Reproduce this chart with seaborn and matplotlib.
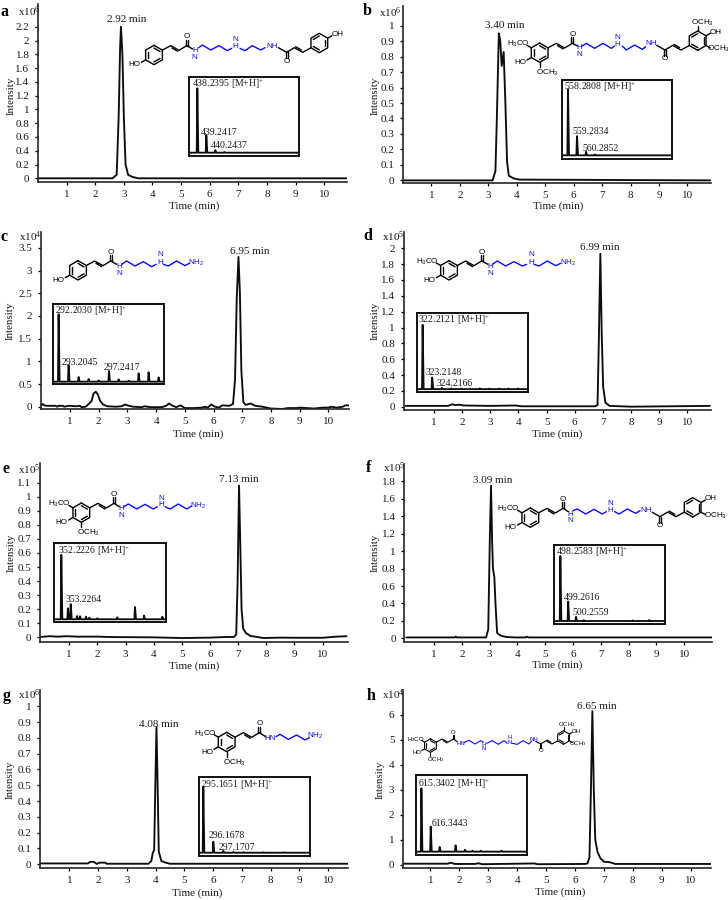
import numpy as np
import pandas as pd
import matplotlib
matplotlib.use("Agg")
import matplotlib.pyplot as plt
import seaborn as sns

sns.set_theme(style="ticks")
plt.rcParams["font.family"] = ["Liberation Serif", "DejaVu Serif"]
plt.rcParams["mathtext.default"] = "regular"

W, H = 728, 900
BLUE = "#0a0af5"

# ---------- chromatograms (time in min, intensity in axis units) ----------
time_a = [0, 2.6, 2.75, 2.82, 2.87, 2.9, 2.95, 3.0, 3.06, 3.15, 3.3, 3.5, 10.8]
inte_a = [0, 0, 0.05, 0.9, 1.9, 2.2, 1.8, 0.9, 0.2, 0.05, 0.02, 0, 0]
time_b = [0, 3.15, 3.25, 3.3, 3.37, 3.42, 3.47, 3.54, 3.6, 3.66, 3.72, 3.9, 4.1, 10.8]
inte_b = [0, 0, 0.06, 0.4, 0.95, 0.9, 0.74, 0.83, 0.5, 0.12, 0.03, 0.012, 0.005, 0]
time_c = [0, .05, .1, .2, .3, .5, .55, .6, .75, .8, .95, 1.2, 1.35, 1.4, 1.55, 1.65, 1.75, 1.82, 1.9, 1.97, 2.05,
          2.15, 2.3, 2.6, 2.8, 2.92, 3.05, 3.2, 3.5, 3.6, 3.8, 4.2, 4.35, 4.45, 4.55, 4.7, 4.85, 5, 5.3, 5.6, 5.7,
          5.8, 5.92, 6.05, 6.2, 6.3, 6.55, 6.68, 6.75, 6.81, 6.87, 6.92, 6.97, 7.04, 7.12, 7.3, 7.45, 7.7, 8, 8.4, 8.6,
          8.9, 9, 9.5, 9.8, 10, 10.1, 10.3, 10.5, 10.6, 10.72]
inte_c = [.03, .06, .03, .02, .02, .02, 0, .02, .02, 0, .02, .01, .02, -.01, 0, .06, .12, .29, .33, .27, .13,
          .05, .01, 0, .01, .05, .02, 0, -.01, .01, -.01, -.01, .02, .07, .03, -.01, .03, -.03, -.03, -.02, 0,
          -.02, .05, 0, -.02, .03, .02, .06, .6, 2.4, 3.3, 2.5, .8, .1, .04, .07, .02, 0, -.04, -.05, -.03,
          -.03, -.02, -.04, -.02, -.02, 0, -.02, 0, .03, .03]
time_d = [0, 1.5, 1.65, 1.75, 1.9, 2.05, 3, 3.9, 4.1, 6.72, 6.81, 6.86, 6.91, 6.96, 7.01, 7.09, 7.24, 8, 10.8]
inte_d = [.01, .01, .03, .02, .025, .015, .01, .015, .005, .005, .02, .9, 1.93, .9, .25, .05, .01, 0, .01]
time_e = [0, .3, .6, .9, 1.3, 2, 2.5, 4, 5, 6, 6.5, 6.85, 6.93, 6.98, 7.03, 7.07, 7.12, 7.18, 7.28, 7.43, 7.6, 7.9,
          8.5, 9, 10, 10.5, 10.85]
inte_e = [.003, .008, .005, .008, .005, .005, .002, 0, -.005, -.002, .002, .003, .02, .4, 1.08, .7, .2, .06,
          .03, .01, .005, -.005, -.002, -.003, -.003, .005, .008]
time_f = [0, 1.75, 1.78, 1.82, 2.87, 2.95, 3.01, 3.05, 3.09, 3.12, 3.17, 3.21, 3.27, 3.4, 3.6, 3.9, 4.3, 4.33, 4.4, 11]
inte_f = [.01, .01, .02, .01, .01, .1, 1.2, 1.75, 1.1, .8, .7, .4, .06, .03, .015, .01, .01, .02, .01, .01]
time_g = [0, 1.65, 1.72, 1.85, 1.95, 2.05, 2.25, 2.3, 3.75, 3.85, 3.9, 3.95, 3.99, 4.03, 4.07, 4.11, 4.2, 4.35, 4.5, 10.7]
inte_g = [.005, .005, .015, .015, .002, .01, .01, .003, .003, .02, .07, .09, .5, .87, .5, .08, .02, .01, .003, .003]
time_h = [.06, 1.6, 1.7, 1.85, 2.55, 2.65, 2.8, 4.6, 4.7, 6.33, 6.43, 6.5, 6.55, 6.6, 6.65, 6.7, 6.78, 6.88, 7, 7.2, 7.4, 8.05, 10.69]
inte_h = [.04, .04, .08, .03, .03, .06, .02, .05, .02, .03, .05, .3, 3.0, 6.15, 3.0, 1.0, .5, .25, .12, .1, .03, .03, .03]

# ---------- MS insets: m/z and relative height ----------
mz_a = [438.24, 439.24, 440.24, 441.24]
rel_a = [1, .27, .04, .01]
mz_b = [558.28, 559.28, 560.29, 561.29]
rel_b = [1, .29, .055, .012]
mz_c = [292.20, 293.20, 294.2, 295.2, 296.2, 297.24, 298.2, 299.2, 300.2, 301.2, 302.2]
rel_c = [1, .248, .07, .04, .02, .158, .035, .015, .124, .139, .064]
mz_d = [322.21, 323.21, 324.22, 325.2, 326.2, 327.2, 328.2, 329.2, 330.2, 331.2, 332.2]
rel_d = [1, .18, .02, .01, .008, .008, .012, .008, .008, .008, .01]
mz_e = [352.22, 352.93, 353.23, 353.9, 354.22, 354.86, 355.22, 356.08, 358.22, 360.11, 361.08, 363.04]
rel_e = [1, .17, .233, .05, .047, .04, .025, .015, .03, .19, .057, .04]
mz_f = [498.26, 499.26, 500.26, 501.26, 507.5, 509.6]
rel_f = [1, .30, .065, .012, .008, .015]
mz_g = [295.17, 296.17, 297.17, 298.17, 299.2, 301.2, 303.2]
rel_g = [1, .167, .03, .01, .006, .006, .006]
mz_h = [615.34, 616.34, 617.3, 619.0, 620.0, 620.8, 621.7, 623.9]
rel_h = [1, .395, .074, .1, .03, .015, .015, .015]

x_ticks = list(range(1, 11))

# ---------- panel layout ----------
panels = [
 dict(k="a", t=time_a, y=inte_a, box=(38, 347, 4, 182.3), xl=(0, 10.80), yl=(-.058, 2.53),
      yt=np.arange(0, 2.21, .2), exp="6", rt="2.92 min", rtp=(126.7, 20), let=(4.5, 12), exx=(18, 12),
      yp=(10.7, 96), xp=(194, 205.7), mz=mz_a, rel=rel_a, ibox=(189.3, 299, 76.7, 155.7), ixl=(437.35, 449.53), iyl=(-.047, 1.18),
      lab=[("438.2395 [M+H]$^{+}$", 191.7, 84), ("439.2417", 201, 132.3), ("440.2437", 210.7, 146)]),
 dict(k="b", t=time_b, y=inte_b, box=(403, 710.7, 6, 182.7), xl=(0, 10.82), yl=(-.015, 1.127),
      yt=np.arange(0, 1.01, .1), exp="6", rt="3.40 min", rtp=(505, 25), let=(367.5, 11), exx=(379, 13),
      yp=(375, 96), xp=(558, 205.7), mz=mz_b, rel=rel_b, ibox=(561.7, 672.3, 80.3, 159.3), ixl=(557.58, 569.88), iyl=(-.06, 1.136),
      lab=[("558.2808 [M+H]$^{+}$", 564, 86.7), ("559.2834", 572.3, 131), ("560.2852", 582.3, 148.3)]),
 dict(k="c", t=time_c, y=inte_c, box=(40.7, 349, 231.7, 409.3), xl=(-.02, 10.72), yl=(-.057, 3.855),
      yt=np.arange(0, 3.51, .5), exp="4", rt="6.95 min", rtp=(250, 251.7), let=(4.5, 237), exx=(19, 236.5),
      yp=(10, 321), xp=(197.7, 434), mz=mz_c, rel=rel_c, ibox=(53.3, 164.3, 304.3, 383.7), ixl=(291.67, 302.77), iyl=(-.03, 1.149),
      lab=[("292.2030 [M+H]$^{+}$", 55, 311), ("293.2045", 61.7, 362.3), ("297.2417", 103.3, 367.7)]),
 dict(k="d", t=time_d, y=inte_d, box=(403.7, 710.7, 231.7, 410), xl=(-.075, 10.83), yl=(-.042, 2.21),
      yt=np.arange(0, 2.01, .2), exp="5", rt="6.99 min", rtp=(599.7, 247.3), let=(367.5, 236), exx=(382, 236.5),
      yp=(375, 321), xp=(556.7, 434), mz=mz_d, rel=rel_d, ibox=(417.3, 527.7, 313.3, 391.7), ixl=(321.65, 333.22), iyl=(-.04, 1.18),
      lab=[("322.2121 [M+H]$^{+}$", 418.3, 320), ("323.2148", 426, 372.7), ("324.2166", 437, 383.3)]),
 dict(k="e", t=time_e, y=inte_e, box=(40, 347.7, 463.3, 641.7), xl=(-.04, 10.89), yl=(-.031, 1.238),
      yt=np.arange(0, 1.11, .1), exp="5", rt="7.13 min", rtp=(239.3, 479), let=(6, 469), exx=(18, 469.5),
      yp=(10.7, 552.7), xp=(194.3, 666), mz=mz_e, rel=rel_e, ibox=(54.3, 165.7, 542.7, 622.3), ixl=(351.47, 363.4), iyl=(-.047, 1.187),
      lab=[("352.2226 [M+H]$^{+}$", 58.3, 551), ("353.2264", 65.3, 600)]),
 dict(k="f", t=time_f, y=inte_f, box=(404.3, 712.3, 464, 641.7), xl=(-.07, 11.01), yl=(-.039, 2.0),
      yt=np.arange(0, 1.81, .2), exp="5", rt="3.09 min", rtp=(493, 480.3), let=(369, 468), exx=(383, 468),
      yp=(375, 553), xp=(557, 665), mz=mz_f, rel=rel_f, ibox=(554, 665, 545, 624), ixl=(497.45, 511.62), iyl=(-.046, 1.17),
      lab=[("498.2583 [M+H]$^{+}$", 555.7, 552.3), ("499.2616", 563.3, 597.7), ("500.2559", 572.3, 612.3)]),
 dict(k="g", t=time_g, y=inte_g, box=(40, 348.3, 690, 867.7), xl=(-.02, 10.7), yl=(-.022, 1.103),
      yt=np.arange(0, 1.01, .1), exp="6", rt="4.08 min", rtp=(158.3, 724.3), let=(7, 696), exx=(18.5, 695),
      yp=(10, 780), xp=(196.7, 893), mz=mz_g, rel=rel_g, ibox=(199, 310, 776.7, 855.7), ixl=(294.74, 305.84), iyl=(-.045, 1.15),
      lab=[("295.1651 [M+H]$^{+}$", 201, 785), ("296.1678", 208.3, 835), ("297.1707", 219, 847)]),
 dict(k="h", t=time_h, y=inte_h, box=(403, 710.7, 690, 867.7), xl=(.055, 10.69), yl=(-.12, 7.0),
      yt=np.arange(0, 6.01, 1), exp="4", rt="6.65 min", rtp=(597.3, 706.7), let=(371, 696), exx=(381.5, 695),
      yp=(380, 780), xp=(560, 892), mz=mz_h, rel=rel_h, ibox=(415.7, 526.7, 775, 855), ixl=(614.73, 626.62), iyl=(-.053, 1.21),
      lab=[("615.3402 [M+H]$^{+}$", 418.3, 784.3), ("616.3443", 431.3, 823.7)]),
]


def pxaxes(fig, l, r, t, b, z=1):
    return fig.add_axes([l / W, 1 - b / H, (r - l) / W, (b - t) / H], zorder=z)


fig = plt.figure(figsize=(W / 100, H / 100), dpi=100, facecolor="white")

for p in panels:
    ax = pxaxes(fig, *p["box"])
    df = pd.DataFrame({"time": p["t"], "intensity": p["y"]})
    sns.lineplot(data=df, x="time", y="intensity", estimator=None, sort=False, ax=ax,
                 color="#0d0d0d", linewidth=1.35)
    ax.set_xlim(*p["xl"])
    ax.set_ylim(*p["yl"])
    ax.set_xticks(x_ticks)
    ax.set_yticks(p["yt"])
    ax.set_yticklabels([f"{v:g}" for v in p["yt"]])
    ax.tick_params(axis="both", labelsize=8, length=2.2, width=0.9, pad=3.5, color="black", labelcolor="#1a1a1a")
    ax.tick_params(axis="y", pad=4)
    ax.set_xlabel("")
    ax.set_ylabel("")
    for s in ("top", "right"):
        ax.spines[s].set_visible(False)
    for s in ("left", "bottom"):
        ax.spines[s].set_linewidth(1.2)
    ax.patch.set_alpha(0)

    # MS inset
    l, r, t, b = p["ibox"]
    ins = pxaxes(fig, l, r, t, b, z=2)
    xs, ys = [p["ixl"][0]], [0.0]
    w = (p["ixl"][1] - p["ixl"][0]) / 190
    for m, h in zip(p["mz"], p["rel"]):
        xs += [m - w, m, m + 1.7 * w]
        ys += [0, h, 0]
    xs.append(p["ixl"][1])
    ys.append(0.0)
    sns.lineplot(x=xs, y=ys, estimator=None, sort=False, ax=ins, color="#0d0d0d", linewidth=1.35)
    ins.set_xlim(*p["ixl"])
    ins.set_ylim(*p["iyl"])
    ins.set_xticks([])
    ins.set_yticks([])
    for s in ins.spines.values():
        s.set_linewidth(1.4)
        s.set_color("#111111")

# ---------- overlay in pixel coordinates for all annotations ----------
ov = fig.add_axes([0, 0, 1, 1], zorder=5)
ov.set_xlim(0, W)
ov.set_ylim(H, 0)
ov.axis("off")
ov.patch.set_alpha(0)

for p in panels:
    ov.text(*p["let"], p["k"], fontsize=11.5, fontweight="bold", ha="center", va="center", color="black")
    ov.text(*p["exx"], f"x10$^{{{p['exp']}}}$", fontsize=8, ha="left", va="center", color="#1a1a1a")
    ov.text(*p["rtp"], p["rt"], fontsize=8, ha="center", va="center", color="#1a1a1a")
    ov.text(*p["yp"], "Intensity", fontsize=7.8, rotation=90, ha="center", va="center", color="#1a1a1a")
    ov.text(*p["xp"], "Time (min)", fontsize=8, ha="center", va="center", color="#1a1a1a")
    for s, x, y in p["lab"]:
        ov.text(x, y, s, fontsize=7, ha="left", va="center", color="#1a1a1a")


# ---------- structures: coordinates are sketch units (3 per pixel) ----------
class Sketch:
    def __init__(self, ox, oy, fs=5.8, lw=1.0):
        self.ox, self.oy, self.fs, self.lw = ox, oy, fs, lw

    def P(self, pts):
        a = np.asarray(pts, float)
        return a[:, 0] / 3 + self.ox, a[:, 1] / 3 + self.oy

    def bond(self, pts, color="black"):
        x, y = self.P(pts)
        ov.plot(x, y, color=color, lw=self.lw, solid_capstyle="round", solid_joinstyle="round")

    def txt(self, x, y, s, color="black", ha="center"):
        xx, yy = self.P([(x, y)])
        ov.text(xx[0], yy[0], s, color=color, fontsize=self.fs, ha=ha, va="center",
                family=["Liberation Sans", "DejaVu Sans"])

    def cin(self, cx, cy, flip=False, kind="H", s=1.0):
        f = -s if flip else s
        T = lambda x, y: (cx + f * x, cy + f * y)
        rc = (-98, 28)
        R = 29
        ang = np.radians([90, 30, -30, -90, -150, 150, 90])
        verts = [T(rc[0] + R * np.cos(a), rc[1] - R * np.sin(a)) for a in ang]
        self.bond(verts)
        for i in (0, 2, 4):
            a1, a2 = ang[i], ang[i + 1]
            p1 = T(rc[0] + .72 * R * np.cos(a1), rc[1] - .72 * R * np.sin(a1))
            p2 = T(rc[0] + .72 * R * np.cos(a2), rc[1] - .72 * R * np.sin(a2))
            self.bond([p1, p2])
        self.bond([T(-73, 13.5), T(-48, 0), T(-23, 14), T(0, 0)])
        self.bond([T(-44, 7), T(-27, 17)])
        self.bond([T(-3, 0), T(-3, -18)])
        self.bond([T(3, 0), T(3, -18)])
        self.txt(*T(0, -27), "O")
        # substituents
        self.bond([T(-123, 42.5), T(-136, 50)])
        if not flip:
            self.txt(*T(-157, 58), "HO")
        else:
            self.txt(*T(-153, 54), "OH")
        if kind in ("G", "S"):
            self.bond([T(-123, 13.5), T(-136, 6)])
            if not flip:
                self.txt(*T(-163, 3), "H$_{3}$CO")
            else:
                self.txt(*T(-159 if kind == "S" else -167, 3), "OCH$_{3}$")
        if kind == "S":
            self.bond([T(-98, 57), T(-98, 72)])
            if not flip:
                self.txt(*T(-76, 90), "OCH$_{3}$")
            else:
                self.txt(*T(-112, 82), "OCH$_{3}$")


Sa = Sketch(0, 0)
Sa.cin(560, 137, False, "H")
Sa.cin(860, 157, True, "H")
Sa.bond([(560, 137), (578, 147)])
Sa.bond([(835, 143), (860, 157)])
Sa.bond([(597, 143), (607, 135), (632, 150), (657, 137), (682, 152), (695, 145)], BLUE)
Sa.bond([(720, 145), (735, 152), (757, 137), (782, 150), (795, 143)], BLUE)
for x, y, s in [(585, 150, "H"), (583, 172, "N"), (707, 118, "N"), (707, 139, "H"), (815, 138, "NH")]:
    Sa.txt(x, y, s, BLUE)

Sb = Sketch(364, 0)
Sb.cin(625, 130, False, "S")
Sb.cin(903, 150, True, "S")
Sb.bond([(625, 130), (640, 138)])
Sb.bond([(878, 136), (903, 150)])
Sb.bond([(655, 138), (667, 130), (692, 145), (717, 130), (742, 145), (752, 138)], BLUE)
Sb.bond([(775, 138), (787, 150), (812, 135), (835, 148), (845, 140)], BLUE)
for x, y, s in [(647, 143, "H"), (647, 165, "N"), (760, 112, "N"), (760, 133, "H"), (860, 130, "NH")]:
    Sb.txt(x, y, s, BLUE)

Sc = Sketch(0, 225)
Sc.cin(332, 108, False, "H")
Sc.bond([(332, 108), (350, 118)])
Sc.bond([(365, 118), (380, 108), (405, 123), (430, 110), (455, 125), (468, 118)], BLUE)
Sc.bond([(490, 118), (505, 123), (530, 108), (555, 122), (568, 115)], BLUE)
for x, y, s in [(357, 123, "H"), (357, 145, "N"), (480, 90, "N"), (480, 112, "H"), (590, 113, "NH$_{2}$")]:
    Sc.txt(x, y, s, BLUE)

Sd = Sketch(364, 225)
Sd.cin(353, 108, False, "G")
Sd.bond([(353, 108), (372, 118)])
Sd.bond([(385, 118), (400, 108), (425, 123), (450, 110), (475, 123), (488, 118)], BLUE)
Sd.bond([(510, 118), (525, 123), (550, 108), (575, 122), (590, 115)], BLUE)
for x, y, s in [(380, 123, "H"), (380, 145, "N"), (503, 90, "N"), (503, 112, "H"), (612, 113, "NH$_{2}$")]:
    Sd.txt(x, y, s, BLUE)

Se = Sketch(0, 450)
Se.cin(342, 160, False, "S")
Se.bond([(342, 160), (358, 170)])
Se.bond([(372, 170), (385, 162), (410, 177), (435, 163), (460, 177), (472, 170)], BLUE)
Se.bond([(495, 170), (510, 177), (535, 162), (560, 177), (575, 168)], BLUE)
for x, y, s in [(365, 176, "H"), (365, 197, "N"), (485, 145, "N"), (485, 165, "H"), (595, 167, "NH$_{2}$")]:
    Se.txt(x, y, s, BLUE)

Sf = Sketch(364, 450)
Sf.cin(597, 175, False, "G")
Sf.cin(888, 200, True, "G")
Sf.bond([(597, 175), (613, 185)])
Sf.bond([(865, 187), (888, 200)])
Sf.bond([(627, 182), (640, 177), (665, 192), (690, 178), (715, 192), (727, 185)], BLUE)
Sf.bond([(752, 185), (765, 192), (790, 177), (815, 190), (828, 182)], BLUE)
for x, y, s in [(620, 192, "H"), (620, 213, "N"), (740, 160, "N"), (740, 180, "H"), (845, 180, "NH")]:
    Sf.txt(x, y, s, BLUE)

Sg = Sketch(0, 675)
Sg.cin(778, 173, False, "S")
Sg.bond([(778, 173), (797, 185)])
Sg.bond([(828, 185), (840, 178), (865, 193), (890, 180), (915, 195), (928, 188)], BLUE)
Sg.txt(811, 190, "HN", BLUE)
Sg.txt(947, 183, "NH$_{2}$", BLUE)

Sh = Sketch(364, 675, fs=4.3, lw=0.8)
Sh.cin(268, 192, False, "S", s=.7)
Sh.cin(530, 207, True, "S", s=.7)
Sh.bond([(268, 192), (280, 200)])
Sh.bond([(515, 199), (530, 207)])
Sh.bond([(300, 203), (315, 196), (333, 207), (350, 197), (358, 201)], BLUE)
Sh.bond([(368, 205), (385, 197), (403, 208), (420, 197), (430, 205)], BLUE)
Sh.bond([(445, 205), (460, 208), (477, 197), (495, 207), (503, 198)], BLUE)
for x, y, s in [(290, 206, "HN"), (358, 208, "H"), (358, 222, "N"), (437, 187, "H"), (437, 203, "N"), (510, 193, "NH")]:
    Sh.txt(x, y, s, BLUE)

fig.savefig("out.png", dpi=100)
